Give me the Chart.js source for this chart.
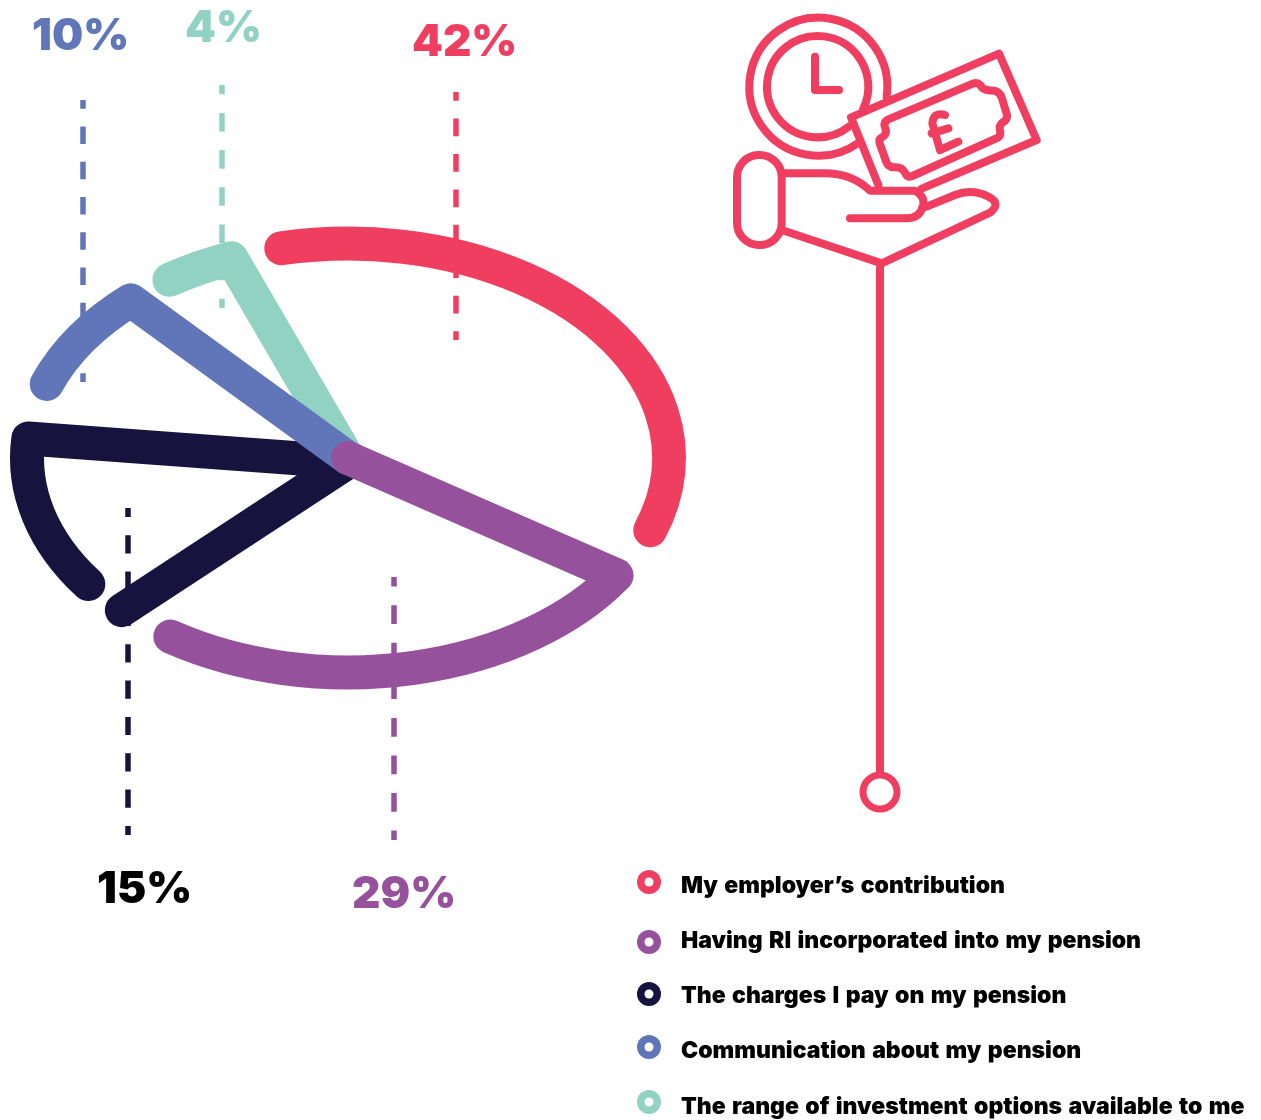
<!DOCTYPE html>
<html>
<head>
<meta charset="utf-8">
<title>Pension priorities</title>
<script src="https://cdn.jsdelivr.net/npm/chart.js@4/dist/chart.umd.js"></script>
<style>
  html, body { margin: 0; padding: 0; background: #fff; }
  canvas { display: block; }
</style>
</head>
<body>
<canvas id="pie" width="1261" height="1120"></canvas>
<script>
// values
var categories = [
    "My employer\u2019s contribution",
    "Having RI incorporated into my pension",
    "The charges I pay on my pension",
    "Communication about my pension",
    "The range of investment options available to me"
];
var shares = [42, 29, 15, 10, 4];
var colors = ["#F03E60", "#95519C", "#18123F", "#6176B9", "#91D2C3"];
var labelColors = ["#F03E60", "#95519C", "#000000", "#6176B9", "#91D2C3"];

// pie is squashed into an ellipse, each ring piece is trimmed at both ends (degrees)
var FLATTEN = 0.668;
var RING_WIDTH = 34;
var trimStart = [13, -3, 3.4, 5.6, 5.6];
var trimEnd = [-16.5, -17, -9.4, -3.2, 3.7];
var NAVY_LOOSE_SPOKE = -5.8;
var drawOrder = [4, 2, 3, 0, 1];

// leader lines: x, top, bottom, number of dash periods
var leaderX = [456, 394, 128, 83, 222];
var leaderTop = [92, 577, 508, 100, 85];
var leaderBottom = [340, 840, 835, 382, 308];
var leaderDashes = [7, 7, 9, 8, 6];

// percentage labels: left edge and baseline
var pctX = [412, 352, 97, 32, 185];
var pctY = [56, 908, 903, 50, 42];

// legend rows
var legendRingY = [882, 942, 994, 1047, 1102];
var legendTextY = [893, 948, 1003, 1058, 1114];

function rad(d) { return d * Math.PI / 180; }

class FlatPie extends Chart.PieController {
    draw() {
        var ctx = this.chart.ctx;
        var arcs = this.getMeta().data;
        ctx.save();
        ctx.lineWidth = RING_WIDTH;
        ctx.lineCap = "round";
        ctx.lineJoin = "round";
        drawOrder.forEach(function(i) {
            var a = arcs[i];
            var rx = a.outerRadius, ry = a.outerRadius * FLATTEN;
            var from = a.startAngle + rad(trimStart[i]);
            var to = a.endAngle + rad(trimEnd[i]);
            ctx.strokeStyle = a.options.backgroundColor;
            ctx.beginPath();
            if (i == 1) {
                // purple has its spoke on the leading edge
                ctx.moveTo(a.x, a.y);
                ctx.lineTo(a.x + rx * Math.cos(from), a.y + ry * Math.sin(from));
            }
            ctx.ellipse(a.x, a.y, rx, ry, 0, from, to);
            if (i >= 2) {
                ctx.lineTo(a.x, a.y + (i == 2 ? 4 : 0));
            }
            if (i == 2) {
                // navy also gets a loose spoke that stops short of the ring piece
                var t = a.startAngle + rad(NAVY_LOOSE_SPOKE);
                ctx.lineTo(a.x + rx * Math.cos(t), a.y + ry * Math.sin(t));
            }
            ctx.stroke();
        });
        ctx.restore();
    }
}
FlatPie.id = "flatPie";
Chart.register(FlatPie);

// dashed leaders sit under the ring
var leaders = {
    id: "leaders",
    beforeDatasetsDraw: function(chart) {
        var ctx = chart.ctx;
        ctx.save();
        ctx.lineWidth = 5.5;
        shares.forEach(function(v, i) {
            var period = (leaderBottom[i] - leaderTop[i]) / leaderDashes[i];
            ctx.strokeStyle = colors[i];
            ctx.setLineDash([period / 2, period / 2]);
            ctx.lineDashOffset = period / 4;
            ctx.beginPath();
            ctx.moveTo(leaderX[i], leaderTop[i]);
            ctx.lineTo(leaderX[i], leaderBottom[i]);
            ctx.stroke();
        });
        ctx.restore();
    }
};

var captions = {
    id: "captions",
    afterDraw: function(chart) {
        var ctx = chart.ctx;
        ctx.save();
        ctx.textAlign = "left";
        ctx.textBaseline = "alphabetic";
        ctx.font = "900 44px Inter";
        shares.forEach(function(v, i) {
            ctx.fillStyle = labelColors[i];
            ctx.fillText(v + "%", pctX[i], pctY[i]);
        });
        ctx.font = "900 23px Inter";
        ctx.wordSpacing = "1.8px";
        categories.forEach(function(c, i) {
            ctx.fillStyle = colors[i];
            ctx.beginPath();
            ctx.arc(649, legendRingY[i], 12, 0, Math.PI * 2);
            ctx.fill();
            ctx.fillStyle = "#fff";
            ctx.beginPath();
            ctx.arc(649, legendRingY[i], 4.5, 0, Math.PI * 2);
            ctx.fill();
            ctx.fillStyle = "#000";
            ctx.fillText(c, 681, legendTextY[i]);
        });
        ctx.restore();
    }
};

// clock, banknote and hand pictogram, with the pole running down from it
var pictogram = {
    id: "pictogram",
    afterDraw: function(chart) {
        var ctx = chart.ctx;
        ctx.save();
        ctx.strokeStyle = colors[0];
        ctx.lineCap = "round";
        ctx.lineJoin = "round";

        ctx.lineWidth = 8;
        ctx.beginPath();
        ctx.moveTo(880, 268);
        ctx.lineTo(880, 773);
        ctx.stroke();
        ctx.lineWidth = 7;
        ctx.beginPath();
        ctx.arc(880, 792, 17, 0, Math.PI * 2);
        ctx.stroke();

        ctx.translate(725, 0);
        ctx.scale(1 / 3, 1 / 3);
        ctx.lineWidth = 24;
        var shapes = [
            "M270 170 L270 270 L342 270",
            "M460 555 L378 352 L822 161 L935 420 L590 566",
            "M490 358 L745 250 Q762 246 770 262 Q780 272 808 272 Q824 276 830 292 L846 345 Q848 360 832 368 Q820 378 826 398 Q828 410 812 416 L562 528 Q546 534 540 518 Q530 500 508 502 Q490 502 484 486 L464 430 Q460 416 474 410 Q488 400 480 382 Q474 366 490 358 Z",
            "M660 345 Q625 335 622 370 L645 450 M620 400 L670 385 M645 450 L700 425",
            "M100 465 L104 465 A66 66 0 0 1 170 531 L170 669 A66 66 0 0 1 104 735 L100 735 A66 66 0 0 1 36 669 L36 531 A66 66 0 0 1 100 465 Z",
            "M170 520 L300 520 Q380 520 435 572 L570 572 Q600 590 595 615 Q585 655 545 655 L375 655",
            "M170 690 L470 790 L795 638 Q830 610 790 590 Q740 565 690 585 L605 620"
        ];
        shapes.forEach(function(d) { ctx.stroke(new Path2D(d)); });
        ctx.beginPath();
        ctx.arc(280, 260, 207, rad(55), rad(368));
        ctx.stroke();
        ctx.beginPath();
        ctx.arc(278, 260, 152, rad(52), rad(386));
        ctx.stroke();
        ctx.restore();
    }
};

var ctx = document.getElementById("pie");
var myChart = new Chart(ctx, {
    type: "flatPie",
    data: {
        labels: categories,
        datasets: [{
            data: shares,
            backgroundColor: colors,
            borderWidth: 0,
            hoverOffset: 0
        }]
    },
    options: {
        responsive: false,
        animation: false,
        events: [],
        rotation: -25,
        layout: { padding: { left: 27, right: 592, top: 137, bottom: 341 } },
        plugins: { legend: { display: false }, tooltip: { enabled: false } }
    },
    plugins: [leaders, captions, pictogram]
});
</script>
</body>
</html>
